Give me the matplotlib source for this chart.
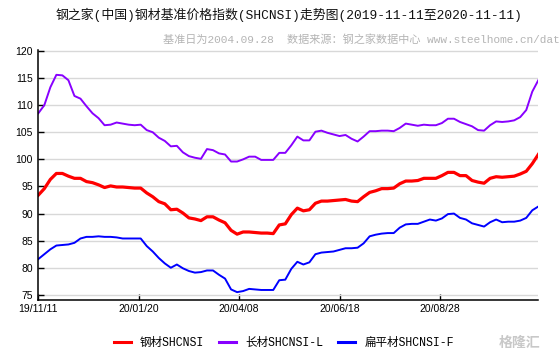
# SHCNSI steel price index trend chart (2019-11-11 to 2020-11-11)

import numpy as np
import matplotlib.pyplot as plt
from matplotlib.lines import Line2D

# trading day index (every 3rd trading day sampled)
day_index = np.arange(0, 250, 3)

# 钢材SHCNSI
steel = [93.4, 94.6, 96.3, 97.4, 97.4, 96.9, 96.5, 96.5, 95.9, 95.7,
         95.3, 94.8, 95.1, 94.9, 94.9, 94.8, 94.7, 94.7, 93.8, 93.1,
         92.2, 91.8, 90.7, 90.8, 90.1, 89.2, 89.0, 88.7, 89.4, 89.4,
         88.8, 88.3, 86.9, 86.2, 86.6, 86.6, 86.5, 86.4, 86.4, 86.3,
         87.9, 88.1, 89.8, 91.0, 90.5, 90.7, 91.9, 92.3, 92.3, 92.4,
         92.5, 92.6, 92.3, 92.2, 93.1, 93.9, 94.2, 94.6, 94.6, 94.7,
         95.5, 96.0, 96.0, 96.1, 96.5, 96.5, 96.5, 97.0, 97.6, 97.6,
         97.0, 97.0, 96.1, 95.8, 95.6, 96.5, 96.8, 96.7, 96.8, 96.9,
         97.3, 97.8, 99.2, 100.9]

# 长材SHCNSI-L
long_steel = [108.5, 110.0, 113.3, 115.6, 115.5, 114.6, 111.7, 111.2, 109.8, 108.5,
              107.6, 106.3, 106.4, 106.8, 106.6, 106.4, 106.3, 106.4, 105.4, 105.0,
              104.0, 103.4, 102.4, 102.5, 101.3, 100.6, 100.3, 100.1, 101.9, 101.7,
              101.1, 100.9, 99.6, 99.6, 100.0, 100.5, 100.5, 99.9, 99.9, 99.9,
              101.2, 101.2, 102.6, 104.2, 103.5, 103.5, 105.1, 105.3, 104.9, 104.6,
              104.3, 104.5, 103.8, 103.3, 104.2, 105.2, 105.2, 105.3, 105.3, 105.2,
              105.8, 106.6, 106.4, 106.2, 106.4, 106.3, 106.3, 106.7, 107.5, 107.5,
              106.9, 106.5, 106.1, 105.4, 105.3, 106.3, 107.0, 106.9, 107.0, 107.2,
              107.8, 109.1, 112.5, 114.6]

# 扁平材SHCNSI-F
flat_steel = [81.6, 82.5, 83.4, 84.1, 84.2, 84.3, 84.6, 85.4, 85.7, 85.7,
              85.8, 85.7, 85.7, 85.6, 85.4, 85.4, 85.4, 85.4, 84.0, 83.0,
              81.8, 80.8, 80.0, 80.6, 79.9, 79.4, 79.1, 79.2, 79.5, 79.5,
              78.7, 78.0, 76.0, 75.5, 75.7, 76.1, 76.0, 75.9, 75.9, 75.9,
              77.7, 77.8, 79.8, 81.1, 80.6, 81.0, 82.5, 82.8, 82.9, 83.0,
              83.3, 83.6, 83.6, 83.7, 84.5, 85.8, 86.1, 86.3, 86.4, 86.4,
              87.4, 88.0, 88.1, 88.1, 88.5, 88.9, 88.7, 89.1, 89.9, 90.0,
              89.2, 88.9, 88.2, 87.9, 87.6, 88.4, 88.9, 88.4, 88.5, 88.5,
              88.7, 89.2, 90.6, 91.3]

tick_index = [0, 50, 100, 150, 200]
tick_labels = ['19/11/11', '20/01/20', '20/04/08', '20/06/18', '20/08/28']
y_ticks = [75, 80, 85, 90, 95, 100, 105, 110, 115, 120]

series_names = ['钢材SHCNSI', '长材SHCNSI-L', '扁平材SHCNSI-F']
series_colors = ['#ff0000', '#8800ff', '#0000ff']

cn_font = ['Liberation Mono', 'Noto Sans CJK SC']

fig = plt.figure(figsize=(5.6, 3.61), dpi=100)
W, H = 560, 361
ax = fig.add_axes([38.3 / W, 61 / H, 500 / W, 250 / H])

ax.plot(day_index, long_steel, color=series_colors[1], lw=1.4)
ax.plot(day_index, flat_steel, color=series_colors[2], lw=1.4)
ax.plot(day_index, steel, color=series_colors[0], lw=2.3)

ax.set_xlim(0, 249)
ax.set_ylim(74.05, 120.18)
ax.set_yticks(y_ticks)
ax.set_xticks(tick_index)
ax.set_xticklabels(tick_labels)

# grid + spines
ax.yaxis.grid(True, color='#d8d8d8', lw=1)
ax.set_axisbelow(True)
ax.spines['top'].set_visible(False)
ax.spines['right'].set_visible(False)
ax.spines['left'].set_linewidth(1.1)
ax.spines['bottom'].set_linewidth(1.1)
ax.tick_params(axis='both', direction='in', length=4, width=1, labelsize=7.5)
ax.tick_params(axis='y', pad=4)
ax.tick_params(axis='x', pad=3)
for lbl in ax.get_xticklabels() + ax.get_yticklabels():
    lbl.set_family('Liberation Sans')

# titles
fig.text(289 / W, 1 - 15 / H, '钢之家(中国)钢材基准价格指数(SHCNSI)走势图(2019-11-11至2020-11-11)',
         ha='center', va='center', fontsize=9.3, family=cn_font, color='#111111')
fig.text(163 / W, 1 - 40 / H, '基准日为2004.09.28  数据来源：钢之家数据中心 www.steelhome.cn/dat',
         ha='left', va='center', fontsize=8, family=cn_font, color='#b4b4b4')

# legend
handles = [Line2D([], [], color=c, lw=2.2) for c in series_colors]
leg = fig.legend(handles, series_names, loc='center', bbox_to_anchor=(284 / W, 1 - 343 / H),
                 ncol=3, frameon=False, handlelength=1.45, handletextpad=0.8,
                 columnspacing=1.3, prop={'family': cn_font, 'size': 8.3})

# watermark logo text
fig.text(520 / W, 1 - 343 / H, '格隆汇', ha='center', va='center', fontsize=10,
         family=['Noto Sans CJK SC'], color='#c8c8c8', fontweight='bold')

plt.savefig('out.png', dpi=100)
